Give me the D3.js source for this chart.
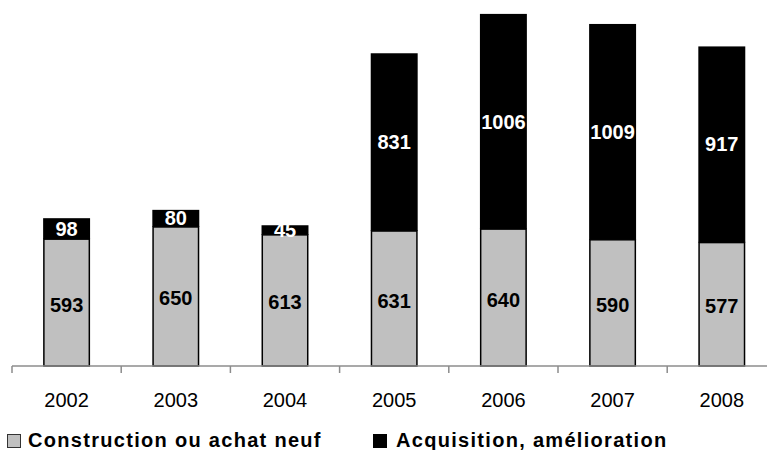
<!DOCTYPE html>
<html>
<head>
<meta charset="utf-8">
<script src="https://cdn.jsdelivr.net/npm/d3@7"></script>
<style>
  html, body { margin: 0; padding: 0; background: #fff; }
  svg { display: block; font-family: "Liberation Sans", Arial, sans-serif; }
</style>
</head>
<body>
<svg id="chart" width="767" height="450"></svg>
<script>
// Years shown on the x axis
const years = ["2002", "2003", "2004", "2005", "2006", "2007", "2008"];
// Series values
const constructionNeuf = [593, 650, 613, 631, 640, 590, 577];
const acquisitionAmelioration = [98, 80, 45, 831, 1006, 1009, 917];
// Series names for the legend
const seriesNames = ["Construction ou achat neuf", "Acquisition, amélioration"];

const svg = d3.select("#chart");
const baseY = 366;
const left = 12, right = 776.4;

const x = d3.scaleBand().domain(years).range([left, right])
  .paddingInner(0.57).paddingOuter(0.285);
const slot = d3.scaleBand().domain(years).range([left, right]).padding(0);
const y = d3.scaleLinear().domain([0, 1711]).range([baseY, 0]);

const rows = years.map((yr, i) => ({ year: yr, a: constructionNeuf[i], b: acquisitionAmelioration[i] }));

// Lower segment: grey with a dark outline
svg.append("g").selectAll("rect").data(rows).join("rect")
  .attr("x", d => x(d.year) + 0.75)
  .attr("width", x.bandwidth() - 1.5)
  .attr("y", d => y(d.a))
  .attr("height", d => baseY - y(d.a))
  .attr("fill", "#c0c0c0")
  .attr("stroke", "#000")
  .attr("stroke-width", 1.5);

// Upper segment: black
svg.append("g").selectAll("rect").data(rows).join("rect")
  .attr("x", d => x(d.year))
  .attr("width", x.bandwidth())
  .attr("y", d => y(d.a + d.b))
  .attr("height", d => y(d.a) - y(d.a + d.b))
  .attr("fill", "#000");

// Value labels
const lab = svg.append("g").attr("font-weight", "bold").attr("font-size", 20)
  .attr("text-anchor", "middle");
lab.selectAll("text.a").data(rows).join("text").attr("class", "a")
  .attr("x", d => x(d.year) + x.bandwidth() / 2)
  .attr("y", d => (y(d.a) + baseY) / 2 + 9)
  .attr("fill", "#000")
  .text(d => d.a);
lab.selectAll("text.b").data(rows).join("text").attr("class", "b")
  .attr("x", d => x(d.year) + x.bandwidth() / 2)
  .attr("y", d => (y(d.a) + y(d.a + d.b)) / 2 + 7)
  .attr("fill", "#fff")
  .text(d => d.b);

// Axis line and boundary ticks
const axis = svg.append("g").attr("stroke", "#8c8c8c").attr("stroke-width", 1.5);
axis.append("line").attr("x1", left).attr("x2", 767).attr("y1", baseY).attr("y2", baseY);
axis.selectAll("line.tick").data(years).join("line").attr("class", "tick")
  .attr("x1", d => slot(d)).attr("x2", d => slot(d))
  .attr("y1", baseY).attr("y2", baseY + 7);

// Year labels
svg.append("g").attr("font-size", 20).attr("text-anchor", "middle").attr("fill", "#000")
  .selectAll("text").data(years).join("text")
  .attr("x", d => slot(d) + slot.bandwidth() / 2)
  .attr("y", 407)
  .text(d => d);

// Legend
const legend = [
  { name: seriesNames[0], fill: "#c0c0c0", stroke: "#333", sx: 7, tx: 28 },
  { name: seriesNames[1], fill: "#000", stroke: "#000", sx: 373, tx: 396 }
];
const lg = svg.append("g");
lg.selectAll("rect").data(legend).join("rect")
  .attr("x", d => d.sx + 0.5).attr("y", 434.5).attr("width", 13).attr("height", 13)
  .attr("fill", d => d.fill).attr("stroke", d => d.stroke).attr("stroke-width", 1);
lg.selectAll("text").data(legend).join("text")
  .attr("x", d => d.tx).attr("y", 447)
  .attr("font-size", 20).attr("font-weight", "bold")
  .attr("letter-spacing", 1.3)
  .text(d => d.name);
</script>
</body>
</html>
